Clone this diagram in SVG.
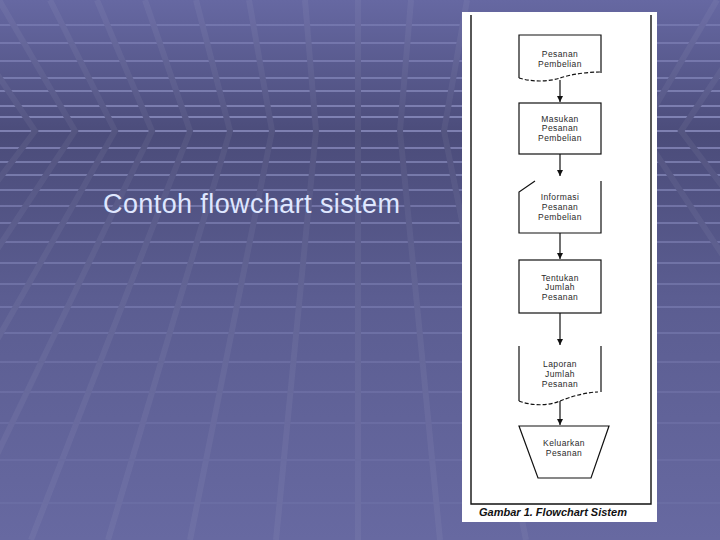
<svg xmlns="http://www.w3.org/2000/svg" width="720" height="540" viewBox="0 0 720 540">
  <defs>
    <linearGradient id="bg" gradientUnits="userSpaceOnUse" x1="0" y1="0" x2="0" y2="540">
      <stop offset="0" stop-color="#6668a2"/>
      <stop offset="0.25" stop-color="#4b4c7a"/>
      <stop offset="0.55" stop-color="#5b5d91"/>
      <stop offset="1" stop-color="#6769a1"/>
    </linearGradient>
    <marker id="arr" markerUnits="userSpaceOnUse" markerWidth="6" markerHeight="6" refX="6" refY="3" orient="auto">
      <path d="M0,0 L6,3 L0,6 z" fill="#111"/>
    </marker>
    <style>
      .h { stroke: #a0a3d6; stroke-width: 2; fill: none; }
      .d { stroke: url(#bg); stroke-width: 6; fill: none; }
      .dl { stroke: #ffffff; stroke-opacity: 0.05; stroke-width: 6; fill: none; }
      .shape { fill: none; stroke: #111; stroke-width: 1.2; }
      .dash { fill: none; stroke: #111; stroke-width: 1.2; stroke-dasharray: 4 2; }
      .conn { stroke: #111; stroke-width: 1.2; fill: none; marker-end: url(#arr); }
      .lbl { font-family: "Liberation Sans", Arial, sans-serif; font-size: 8.5px; letter-spacing: 0.4px; fill: #2a2a2a; text-anchor: middle; }
    </style>
  </defs>

  <!-- background -->
  <rect x="0" y="0" width="720" height="540" fill="url(#bg)"/>
  <g id="bg-lines">
    <g>
      <line class="h" x1="0" y1="25" x2="720" y2="25" stroke-opacity="0.3"/>
      <line class="h" x1="0" y1="43" x2="720" y2="43" stroke-opacity="0.35"/>
      <line class="h" x1="0" y1="61" x2="720" y2="61" stroke-opacity="0.4"/>
      <line class="h" x1="0" y1="78" x2="720" y2="78" stroke-opacity="0.45"/>
      <line class="h" x1="0" y1="91" x2="720" y2="91" stroke-opacity="0.5"/>
      <line class="h" x1="0" y1="106" x2="720" y2="106" stroke-opacity="0.55"/>
      <line class="h" x1="0" y1="117" x2="720" y2="117" stroke-opacity="0.6"/>
      <line class="h" x1="0" y1="131" x2="720" y2="131" stroke-opacity="0.6"/>
      <line class="h" x1="0" y1="148" x2="720" y2="148" stroke-opacity="0.55"/>
      <line class="h" x1="0" y1="162" x2="720" y2="162" stroke-opacity="0.5"/>
      <line class="h" x1="0" y1="175" x2="720" y2="175" stroke-opacity="0.5"/>
      <line class="h" x1="0" y1="190" x2="720" y2="190" stroke-opacity="0.45"/>
      <line class="h" x1="0" y1="206" x2="720" y2="206" stroke-opacity="0.4"/>
      <line class="h" x1="0" y1="223" x2="720" y2="223" stroke-opacity="0.4"/>
      <line class="h" x1="0" y1="242" x2="720" y2="242" stroke-opacity="0.35"/>
      <line class="h" x1="0" y1="263" x2="720" y2="263" stroke-opacity="0.35"/>
      <line class="h" x1="0" y1="284" x2="720" y2="284" stroke-opacity="0.3"/>
      <line class="h" x1="0" y1="307" x2="720" y2="307" stroke-opacity="0.3"/>
      <line class="h" x1="0" y1="333" x2="720" y2="333" stroke-opacity="0.25"/>
      <line class="h" x1="0" y1="362" x2="720" y2="362" stroke-opacity="0.2"/>
      <line class="h" x1="0" y1="392" x2="720" y2="392" stroke-opacity="0.18"/>
      <line class="h" x1="0" y1="423" x2="720" y2="423" stroke-opacity="0.15"/>
      <line class="h" x1="0" y1="460" x2="720" y2="460" stroke-opacity="0.12"/>
      <line class="h" x1="0" y1="503" x2="720" y2="503" stroke-opacity="0.1"/>
    </g>
    <g>
      <polyline class="d" points="-52,0 35,131 -272,540"/>
      <polyline class="d" points="-1,0 75,131 -194,540"/>
      <polyline class="d" points="50,0 115,131 -116,540"/>
      <polyline class="d" points="97,0 152,131 -44,540"/>
      <polyline class="d" points="145,0 190,131 31,540"/>
      <polyline class="d" points="196,0 230,131 108,540"/>
      <polyline class="d" points="249,0 272,131 190,540"/>
      <polyline class="d" points="305,0 316,131 276,540"/>
      <polyline class="d" points="358,0 358,131 358,540"/>
      <polyline class="d" points="411,0 400,131 440,540"/>
      <polyline class="d" points="467,0 444,131 526,540"/>
      <polyline class="d" points="717,0 641,131 910,540"/>
      <polyline class="d" points="768,0 681,131 988,540"/>
      <polyline class="dl" points="-52,0 35,131 -272,540"/>
      <polyline class="dl" points="-1,0 75,131 -194,540"/>
      <polyline class="dl" points="50,0 115,131 -116,540"/>
      <polyline class="dl" points="97,0 152,131 -44,540"/>
      <polyline class="dl" points="145,0 190,131 31,540"/>
      <polyline class="dl" points="196,0 230,131 108,540"/>
      <polyline class="dl" points="249,0 272,131 190,540"/>
      <polyline class="dl" points="305,0 316,131 276,540"/>
      <polyline class="dl" points="358,0 358,131 358,540"/>
      <polyline class="dl" points="411,0 400,131 440,540"/>
      <polyline class="dl" points="467,0 444,131 526,540"/>
      <polyline class="dl" points="717,0 641,131 910,540"/>
      <polyline class="dl" points="768,0 681,131 988,540"/>
    </g>
  </g>

  <text id="title" x="103" y="213" font-family="Liberation Sans, Arial, sans-serif" font-size="27" letter-spacing="0.4" fill="#dfe7ff">Contoh flowchart sistem</text>

  <!-- flowchart picture -->
  <rect x="462" y="12" width="195" height="510" fill="#ffffff"/>
  <g id="frame" stroke="#111" stroke-width="1.4" fill="none">
    <polyline points="471,15 471,504 651,504 651,15"/>
  </g>
  <text id="caption" x="479" y="516" font-family="Liberation Sans, Arial, sans-serif" font-size="11" font-weight="bold" font-style="italic" fill="#111">Gambar 1. Flowchart Sistem</text>

  <g id="connectors">
    <line class="conn" x1="560" y1="80" x2="560" y2="102"/>
    <line class="conn" x1="560" y1="154" x2="560" y2="176"/>
    <line class="conn" x1="560" y1="233" x2="560" y2="259"/>
    <line class="conn" x1="560" y1="313" x2="560" y2="345"/>
    <line class="conn" x1="560" y1="401" x2="560" y2="425"/>
  </g>

  <g id="n1">
    <polyline class="shape" points="519,78 519,35 601,35 601,73"/>
    <path class="dash" d="M519,78 C532,82 548,82 560,78 S588,72 601,72"/>
    <text class="lbl" x="560" y="56.5">Pesanan</text>
    <text class="lbl" x="560" y="66.5">Pembelian</text>
  </g>

  <g id="n2">
    <rect class="shape" x="519" y="103" width="82" height="51"/>
    <text class="lbl" x="560" y="121.5">Masukan</text>
    <text class="lbl" x="560" y="131">Pesanan</text>
    <text class="lbl" x="560" y="141">Pembelian</text>
  </g>

  <g id="n3">
    <polyline class="shape" points="601,181 601,233 519,233 519,192 535,181"/>
    <text class="lbl" x="560" y="199.5">Informasi</text>
    <text class="lbl" x="560" y="209.5">Pesanan</text>
    <text class="lbl" x="560" y="219.5">Pembelian</text>
  </g>

  <g id="n4">
    <rect class="shape" x="519" y="260" width="82" height="53"/>
    <text class="lbl" x="560" y="280.5">Tentukan</text>
    <text class="lbl" x="560" y="290">Jumlah</text>
    <text class="lbl" x="560" y="300">Pesanan</text>
  </g>

  <g id="n5">
    <line class="shape" x1="519" y1="346" x2="519" y2="401"/>
    <line class="shape" x1="601" y1="346" x2="601" y2="392"/>
    <path class="dash" d="M519,401 C532,406 548,406 560,401 S588,392 598,392"/>
    <text class="lbl" x="560" y="366.5">Laporan</text>
    <text class="lbl" x="560" y="376.5">Jumlah</text>
    <text class="lbl" x="560" y="386.5">Pesanan</text>
  </g>

  <g id="n6">
    <polygon class="shape" points="519,426 609,426 591,478 538,478"/>
    <text class="lbl" x="564" y="445.5">Keluarkan</text>
    <text class="lbl" x="564" y="455.5">Pesanan</text>
  </g>
</svg>
